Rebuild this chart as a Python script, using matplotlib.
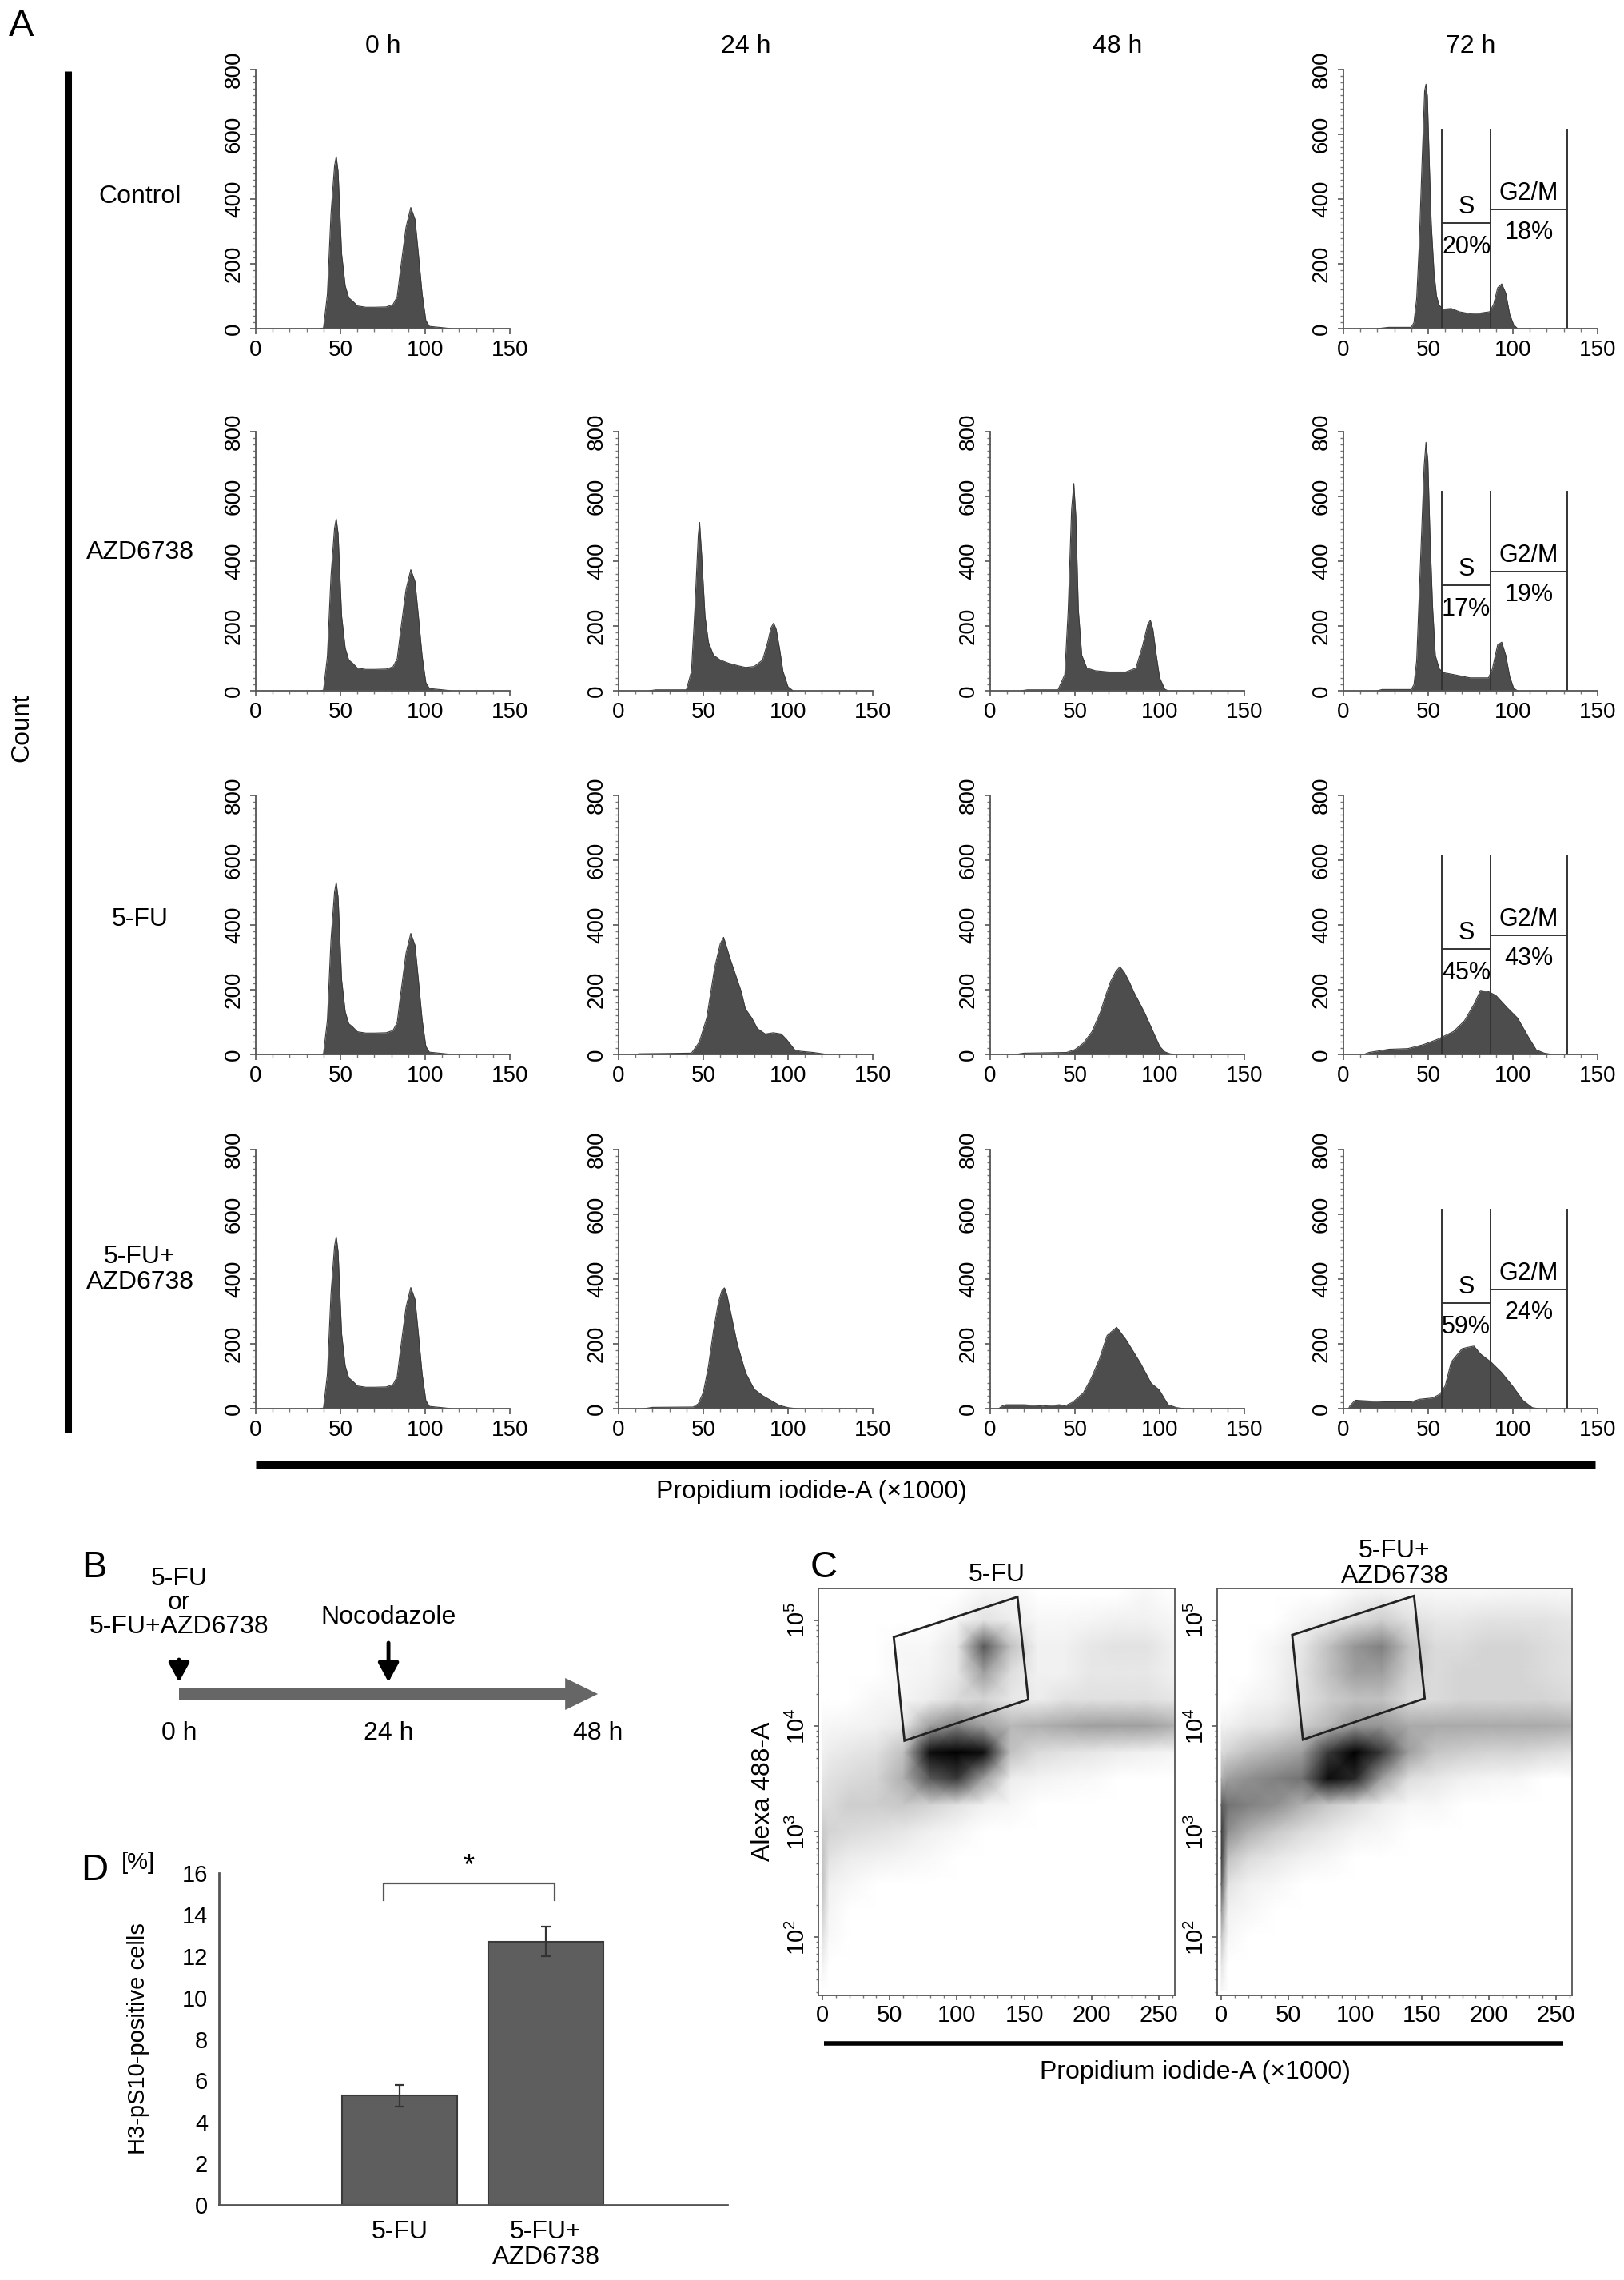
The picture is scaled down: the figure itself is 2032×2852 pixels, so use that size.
import numpy as np
import matplotlib.pyplot as plt
from matplotlib.lines import Line2D
from matplotlib.patches import Polygon, FancyArrow
from matplotlib.ticker import MultipleLocator, FixedLocator
from matplotlib.colors import PowerNorm

plt.rcParams['font.family'] = ['Liberation Sans', 'DejaVu Sans']
plt.rcParams['mathtext.fontset'] = 'custom'
plt.rcParams['mathtext.rm'] = 'Liberation Sans'
plt.rcParams['mathtext.it'] = 'Liberation Sans'

# ---------------- A: PI histograms ----------------
hours = ['0 h', '24 h', '48 h', '72 h']
treatments = ['Control', 'AZD6738', '5-FU', '5-FU+\nAZD6738']

# 0 h (same for all rows)
pi_0h = [38, 40, 42.3, 44.4, 46.5, 47.5, 48.6, 50.7, 52.8, 54.9, 57, 60, 65, 70, 77, 81, 83.5, 85.6, 88.7, 91.5, 94, 96, 98.2, 100.4, 102.5, 112, 115]
cnt_0h = [0, 2, 107, 354, 502, 531, 486, 230, 132, 95, 86, 70, 66, 66, 67, 74, 99, 189, 313, 374, 337, 230, 107, 25, 7, 2, 0]

pi_ctrl_72 = [20, 26.7, 40, 41.6, 43.2, 44.7, 46.3, 47.9, 48.7, 49.5, 50.7, 51.8, 53.4, 54.9, 56.5, 58.9, 63.6, 68.3, 74.6, 80.8, 86.3, 88.7, 91, 93.4, 95.8, 98.1, 100.5, 102.8]
cnt_ctrl_72 = [0, 4, 4, 19, 93, 257, 504, 734, 755, 718, 504, 323, 175, 101, 72, 60, 62, 52, 46, 48, 52, 76, 126, 138, 109, 44, 11, 0]

pi_azd_24 = [18, 22, 40, 43, 45, 47, 47.8, 49, 51, 53, 56, 60, 65, 70, 75, 80, 85, 88, 90, 91.5, 93, 95, 97, 100, 103]
cnt_azd_24 = [0, 3, 3, 60, 250, 480, 520, 420, 230, 150, 110, 95, 85, 78, 72, 75, 95, 150, 195, 209, 190, 130, 60, 12, 0]

pi_azd_48 = [18, 22, 40, 44, 46, 48, 49.3, 50.5, 52, 54, 57, 62, 70, 80, 86, 90, 93, 94.5, 96, 98, 100, 103, 105]
cnt_azd_48 = [0, 3, 3, 50, 250, 560, 640, 540, 250, 110, 70, 62, 58, 58, 70, 140, 205, 218, 190, 110, 40, 5, 0]

pi_azd_72 = [20, 22.8, 40, 41.6, 43.2, 45.5, 47.6, 48.7, 49.8, 51, 52.6, 54.2, 56.5, 58.9, 65.1, 74.6, 85.6, 87.9, 91, 93.4, 95.8, 98.1, 100.5, 102.8]
cnt_azd_72 = [0, 4, 4, 19, 93, 405, 693, 767, 710, 488, 257, 109, 68, 56, 50, 40, 40, 68, 142, 150, 109, 44, 7, 0]

pi_fu_24 = [10, 12, 30, 43, 47.6, 52, 56.7, 60, 62, 66, 72.4, 74.8, 78.7, 81.9, 86.6, 91.3, 96, 99, 104, 107, 115, 123]
cnt_fu_24 = [0, 2, 3, 4, 38, 112, 268, 342, 362, 293, 194, 141, 112, 80, 63, 67, 63, 47, 14, 10, 6, 0]

pi_fu_48 = [15, 20, 45, 50, 55, 60, 65, 68, 71, 74, 76.5, 79, 82, 85, 88, 91, 94, 97, 100, 103, 106, 110]
cnt_fu_48 = [0, 4, 6, 15, 35, 70, 130, 180, 225, 255, 271, 255, 225, 190, 160, 130, 95, 60, 25, 8, 2, 0]

pi_fu_72 = [12, 15, 27, 38, 47, 55.7, 65, 71.4, 77.7, 80.8, 85.6, 90, 96.5, 102.8, 109, 113.8, 118.5, 123]
cnt_fu_72 = [0, 6, 16, 18, 30, 47, 71, 104, 161, 198, 194, 182, 145, 112, 55, 14, 4, 0]

pi_combo_24 = [15, 20, 44, 47, 50, 53, 56, 59, 61, 62.5, 64, 66, 70, 75, 80, 85, 90, 95, 100, 105]
cnt_combo_24 = [0, 4, 5, 15, 50, 130, 240, 330, 365, 373, 350, 300, 200, 110, 60, 40, 25, 10, 3, 0]

pi_combo_48 = [5, 7, 9.4, 20, 31, 41, 44, 48.7, 55, 59.7, 64.4, 69, 74.6, 80, 88.7, 95, 99.7, 105, 110, 114.6]
cnt_combo_48 = [0, 8, 12, 12, 8, 12, 8, 20, 49, 95, 152, 226, 251, 214, 140, 78, 58, 12, 3, 0]

pi_combo_72 = [3, 4, 7, 10, 24, 32, 40, 45, 52.6, 57, 60, 63.6, 70, 73, 77, 81, 87, 93.4, 99.7, 106, 111.5, 115]
cnt_combo_72 = [0, 10, 26, 25, 21, 21, 21, 29, 33, 45, 70, 144, 185, 189, 193, 168, 144, 111, 70, 25, 3, 0]

hists = {
    (0, 0): (pi_0h, cnt_0h), (0, 3): (pi_ctrl_72, cnt_ctrl_72),
    (1, 0): (pi_0h, cnt_0h), (1, 1): (pi_azd_24, cnt_azd_24), (1, 2): (pi_azd_48, cnt_azd_48), (1, 3): (pi_azd_72, cnt_azd_72),
    (2, 0): (pi_0h, cnt_0h), (2, 1): (pi_fu_24, cnt_fu_24), (2, 2): (pi_fu_48, cnt_fu_48), (2, 3): (pi_fu_72, cnt_fu_72),
    (3, 0): (pi_0h, cnt_0h), (3, 1): (pi_combo_24, cnt_combo_24), (3, 2): (pi_combo_48, cnt_combo_48), (3, 3): (pi_combo_72, cnt_combo_72),
}

# 72 h gates
gate_edges = [58, 87, 132]
gate_top = 615
s_level = 325
g2m_level = 368
s_pct = ['20%', '17%', '45%', '59%']
g2m_pct = ['18%', '19%', '43%', '24%']

# ---------------- B: schedule ----------------
tl_hours = [0, 24, 48]
tl_labels = ['0 h', '24 h', '48 h']

# ---------------- C: Alexa488 (log10) vs PI, density ----------------
pi_nodes = [0, 5, 20, 40, 60, 80, 100, 120, 140, 160, 180, 200, 220, 240, 262]
alexa_nodes = [5.5, 5.25, 5.0, 4.75, 4.5, 4.25, 4.0, 3.75, 3.5, 3.25, 3.0, 2.75, 2.5, 2.25, 2.0, 1.75, 1.5]
dens_fu = [
    [0, 0, 0, 0, 0, 0, 0, 0, 0, 0, 0, 0, 0, 0, 0],
    [0, 0, 0, 0, 0, 0, 0, 0.4, 0.4, 0, 0, 0, 0, 0.3, 0],
    [0, 0, 0, 0, 0, 0, 0.4, 1.2, 0.8, 0.3, 0.3, 0.4, 0.6, 0.6, 0.3],
    [0, 0, 0, 0, 0.3, 0.3, 1, 6, 2.5, 0.6, 0.6, 1, 1.2, 1.2, 0.6],
    [0, 0, 0, 0, 0.3, 0.5, 1, 3.5, 1.4, 0.6, 0.6, 1, 1, 1, 0.6],
    [0, 0, 0, 0.3, 0.4, 0.8, 1.5, 1.8, 1, 0.8, 1.2, 1.3, 1.3, 1.3, 1],
    [0.3, 0.3, 0.4, 0.6, 1, 3.5, 4.5, 3.5, 2.8, 3, 3.3, 3.5, 3.5, 3.5, 3],
    [0.6, 0.8, 1, 1.3, 2.5, 8.5, 10, 8.5, 2.5, 1.5, 1.2, 1, 0.8, 0.6, 0.4],
    [1, 1.2, 1.5, 1.8, 3, 6, 7, 3.5, 0.8, 0.5, 0.3, 0.2, 0, 0, 0],
    [1.5, 1.5, 2, 2, 2.2, 1.8, 1.2, 0.6, 0.3, 0, 0, 0, 0, 0, 0],
    [2.2, 1.8, 1.5, 1.3, 1, 0.6, 0.3, 0, 0, 0, 0, 0, 0, 0, 0],
    [2.5, 1.2, 0.8, 0.6, 0.4, 0.2, 0, 0, 0, 0, 0, 0, 0, 0, 0],
    [2.5, 0.6, 0.3, 0, 0, 0, 0, 0, 0, 0, 0, 0, 0, 0, 0],
    [2, 0.4, 0, 0, 0, 0, 0, 0, 0, 0, 0, 0, 0, 0, 0],
    [1.3, 0.2, 0, 0, 0, 0, 0, 0, 0, 0, 0, 0, 0, 0, 0],
    [0.6, 0, 0, 0, 0, 0, 0, 0, 0, 0, 0, 0, 0, 0, 0],
    [0, 0, 0, 0, 0, 0, 0, 0, 0, 0, 0, 0, 0, 0, 0],
]
dens_combo = [
    [0, 0, 0, 0, 0, 0, 0, 0, 0, 0, 0, 0, 0, 0, 0],
    [0, 0, 0, 0, 0, 0, 0.4, 0.6, 0.4, 0.3, 0.3, 0.3, 0.4, 0.4, 0.3],
    [0, 0, 0, 0, 0.4, 0.8, 1.4, 2, 1.3, 1, 1, 1.2, 1.2, 1.2, 1],
    [0, 0, 0, 0.4, 1, 2.5, 3.8, 4.5, 2.5, 1.5, 1.5, 1.8, 1.8, 1.5, 1.2],
    [0, 0, 0, 0.4, 1.2, 2.5, 3.5, 3.5, 2, 1.5, 1.8, 1.8, 1.8, 1.5, 1.2],
    [0, 0, 0.3, 0.6, 1.2, 2, 2.5, 2.5, 1.5, 1.5, 1.8, 1.8, 1.8, 1.8, 1.5],
    [0.6, 0.6, 1, 1.3, 2, 2.8, 3.8, 3.8, 3.2, 3.2, 3.2, 3.2, 3.2, 3.2, 3],
    [1.5, 1.8, 2.5, 3, 3.5, 7, 9.5, 7, 3.5, 2.3, 2, 1.8, 1.8, 1.5, 1.2],
    [3, 3.5, 4, 4.5, 5, 8.5, 7.5, 3.5, 1.4, 1, 0.6, 0.4, 0.3, 0, 0],
    [6, 5, 4.5, 4, 3, 2.2, 1.5, 0.8, 0.3, 0.3, 0, 0, 0, 0, 0],
    [7, 4, 3, 2.2, 1.5, 1, 0.5, 0.3, 0, 0, 0, 0, 0, 0, 0],
    [7, 2.5, 1.5, 1, 0.6, 0.3, 0, 0, 0, 0, 0, 0, 0, 0, 0],
    [6, 1.2, 0.6, 0.3, 0, 0, 0, 0, 0, 0, 0, 0, 0, 0, 0],
    [4, 0.6, 0.3, 0, 0, 0, 0, 0, 0, 0, 0, 0, 0, 0, 0],
    [2.5, 0.3, 0, 0, 0, 0, 0, 0, 0, 0, 0, 0, 0, 0, 0],
    [1.2, 0, 0, 0, 0, 0, 0, 0, 0, 0, 0, 0, 0, 0, 0],
    [0.4, 0, 0, 0, 0, 0, 0, 0, 0, 0, 0, 0, 0, 0, 0],
]
gate_fu = [(53, 4.84), (145, 5.22), (153, 4.25), (61, 3.86)]
gate_combo = [(53, 4.86), (144, 5.23), (152, 4.26), (61, 3.87)]
c_titles = ['5-FU', '5-FU+\nAZD6738']

# ---------------- D: H3-pS10 positive cells ----------------
d_groups = ['5-FU', '5-FU+\nAZD6738']
d_means = [5.27, 12.69]
d_err = [0.52, 0.71]

# ---------------- figure ----------------
W, H = 2032, 2852
fig = plt.figure(figsize=(W / 100, H / 100), dpi=100)
axis_gray = '#555555'
fill_gray = '#4d4d4d'


def px_ax(left, top, width, height):
    return fig.add_axes([left / W, 1 - (top + height) / H, width / W, height / H])


def px_text(x, y, s, **kw):
    kw.setdefault('ha', 'center')
    kw.setdefault('va', 'center')
    kw.setdefault('fontsize', 23)
    fig.text(x / W, 1 - y / H, s, **kw)


def px_line(x0, y0, x1, y1, **kw):
    fig.add_artist(Line2D([x0 / W, x1 / W], [1 - y0 / H, 1 - y1 / H], **kw))


# panel A
col_left = [320, 774, 1239, 1681]
row_zero = [411, 864, 1319, 1762]
ax_w, ax_h = 318, 324

for (r, c), (xs, ys) in hists.items():
    ax = px_ax(col_left[c], row_zero[r] - ax_h, ax_w, ax_h)
    ax.fill_between(xs, ys, color=fill_gray, lw=0)
    ax.plot(xs, ys, color='#3a3a3a', lw=0.8)
    ax.set_xlim(0, 150)
    ax.set_ylim(0, 800)
    for s in ['top', 'right']:
        ax.spines[s].set_visible(False)
    for s in ['left', 'bottom']:
        ax.spines[s].set_color(axis_gray)
        ax.spines[s].set_linewidth(1.3)
    ax.set_xticks([0, 50, 100, 150])
    ax.xaxis.set_minor_locator(MultipleLocator(10))
    ax.set_yticks(range(0, 801, 200))
    ax.yaxis.set_minor_locator(MultipleLocator(20))
    ax.tick_params(which='major', length=5, width=1.2, color=axis_gray, labelsize=20, pad=5)
    ax.tick_params(which='minor', length=3, width=1, color='#777777')
    ax.tick_params(axis='y', labelrotation=90)
    plt.setp(ax.get_yticklabels(), va='center')
    if c == 3:
        gc = '#333333'
        for gx in gate_edges:
            ax.plot([gx, gx], [0, gate_top], color=gc, lw=1.4)
        ax.plot(gate_edges[:2], [s_level, s_level], color=gc, lw=1.4)
        ax.plot(gate_edges[1:], [g2m_level, g2m_level], color=gc, lw=1.4)
        sx = (gate_edges[0] + gate_edges[1]) / 2
        gx2 = (gate_edges[1] + gate_edges[2]) / 2
        ax.text(sx, s_level + 50, 'S', ha='center', va='center', fontsize=22)
        ax.text(sx, s_level - 72, s_pct[r], ha='center', va='center', fontsize=22)
        ax.text(gx2, g2m_level + 50, 'G2/M', ha='center', va='center', fontsize=22)
        ax.text(gx2, g2m_level - 72, g2m_pct[r], ha='center', va='center', fontsize=22)

for c, hname in enumerate(hours):
    px_text(col_left[c] + ax_w / 2, 58, hname)
row_label_y = [246, 691, 1150, 1588]
for r, tname in enumerate(treatments):
    px_text(175, row_label_y[r], tname, linespacing=1.1)

px_text(27, 33, 'A', fontsize=34)
px_text(27, 910, 'Count', rotation=90)
px_line(85, 89, 85, 1792, color='black', lw=6.5, solid_capstyle='butt')
px_line(320, 1832, 1996, 1832, color='black', lw=6.5, solid_capstyle='butt')
px_text(1015, 1866, 'Propidium iodide-A (\u00d71000)')

# panel B
px_text(118, 1961, 'B', fontsize=34)
axb = px_ax(100, 1940, 700, 260)
h2px = 10.92
axb.set_xlim(-124 / h2px, 576 / h2px)
axb.set_ylim(2200, 1940)
axb.axis('off')
axb.add_patch(FancyArrow(tl_hours[0], 2119, tl_hours[-1] - tl_hours[0], 0, width=15, head_width=40,
                         head_length=41 / h2px, length_includes_head=True, color='#666666', lw=0))
for h, lab in zip(tl_hours, tl_labels):
    axb.text(h, 2168, lab, ha='center', va='center', fontsize=23)
for yy, s in zip([1975, 2005, 2035], ['5-FU', 'or', '5-FU+AZD6738']):
    axb.text(tl_hours[0], yy, s, ha='center', va='center', fontsize=23)
axb.text(tl_hours[1], 2023, 'Nocodazole', ha='center', va='center', fontsize=23)
astyle = dict(arrowstyle='-|>,head_length=0.55,head_width=0.3', color='black', lw=3.5,
              mutation_scale=26, shrinkA=0, shrinkB=0)
axb.annotate('', xy=(tl_hours[0], 2104), xytext=(tl_hours[0], 2076), arrowprops=astyle)
axb.annotate('', xy=(tl_hours[1], 2104), xytext=(tl_hours[1], 2055), arrowprops=astyle)

# panel C
px_text(1031, 1961, 'C', fontsize=34)
c_lefts = [1024, 1523]
c_widths = [446, 444]
c_top, c_h = 1987, 509
XX, YY = np.meshgrid(pi_nodes, alexa_nodes)
dnorm = PowerNorm(gamma=0.8, vmin=0, vmax=9)
for i, (dens, gate) in enumerate([(dens_fu, gate_fu), (dens_combo, gate_combo)]):
    ax = px_ax(c_lefts[i], c_top, c_widths[i], c_h)
    ax.pcolormesh(XX, YY, np.clip(np.array(dens), 0, 9), shading='gouraud', cmap='Greys', norm=dnorm)
    ax.add_patch(Polygon(gate, closed=True, fill=False, edgecolor='#222222', lw=2))
    ax.set_xlim(-3, 262)
    ax.set_ylim(1.45, 5.3)
    for s in ax.spines.values():
        s.set_color(axis_gray)
        s.set_linewidth(1.3)
    ax.set_xticks([0, 50, 100, 150, 200, 250])
    ax.xaxis.set_minor_locator(MultipleLocator(10))
    ax.set_yticks([2, 3, 4, 5])
    ax.set_yticklabels([r'$10^{%d}$' % d for d in [2, 3, 4, 5]])
    minors = [d + np.log10(k) for d in [1, 2, 3, 4, 5] for k in range(2, 10)]
    ax.yaxis.set_minor_locator(FixedLocator(minors))
    ax.tick_params(which='major', length=4, width=1.2, color=axis_gray, labelsize=21, pad=4)
    ax.tick_params(which='minor', length=2.5, width=1, color='#777777')
    ax.tick_params(axis='y', labelrotation=90)
    plt.setp(ax.get_yticklabels(), va='center')
    px_text(c_lefts[i] + c_widths[i] / 2, 1956 if i == 1 else 1970, c_titles[i], linespacing=1.05)
px_text(955, 2241, 'Alexa 488-A', rotation=90)
px_line(1031, 2556, 1956, 2556, color='black', lw=4, solid_capstyle='butt')
px_text(1495, 2592, 'Propidium iodide-A (\u00d71000)')

# panel D
px_text(118, 2340, 'D', fontsize=34)
axd = px_ax(274, 2343, 636, 415)
pos = [1, 2]
axd.bar(pos, d_means, width=0.79, color='#5e5e5e', edgecolor='#3a3a3a', lw=1.5)
axd.errorbar(pos, d_means, yerr=d_err, fmt='none', ecolor='#333333', elinewidth=1.6, capsize=4, capthick=1.6)
axd.plot([0.89, 0.89, 2.06, 2.06], [14.7, 15.5, 15.5, 14.7], color='#555555', lw=1.6)
axd.text(1.47, 16.3, '*', ha='center', va='center', fontsize=26)
axd.set_xlim(-0.235, 3.24)
axd.set_ylim(0, 16)
axd.set_yticks(range(0, 17, 2))
axd.set_xticks(pos)
axd.set_xticklabels(d_groups, linespacing=1.05)
for s in ['top', 'right']:
    axd.spines[s].set_visible(False)
for s in ['left', 'bottom']:
    axd.spines[s].set_color(axis_gray)
    axd.spines[s].set_linewidth(2)
axd.tick_params(length=0, labelsize=21, pad=10)
axd.tick_params(axis='x', labelsize=23, pad=14)
px_text(173, 2330, '[%]', fontsize=21)
px_text(173, 2550, 'H3-pS10-positive cells', rotation=90, fontsize=21)

fig.savefig('out.png', dpi=100)
